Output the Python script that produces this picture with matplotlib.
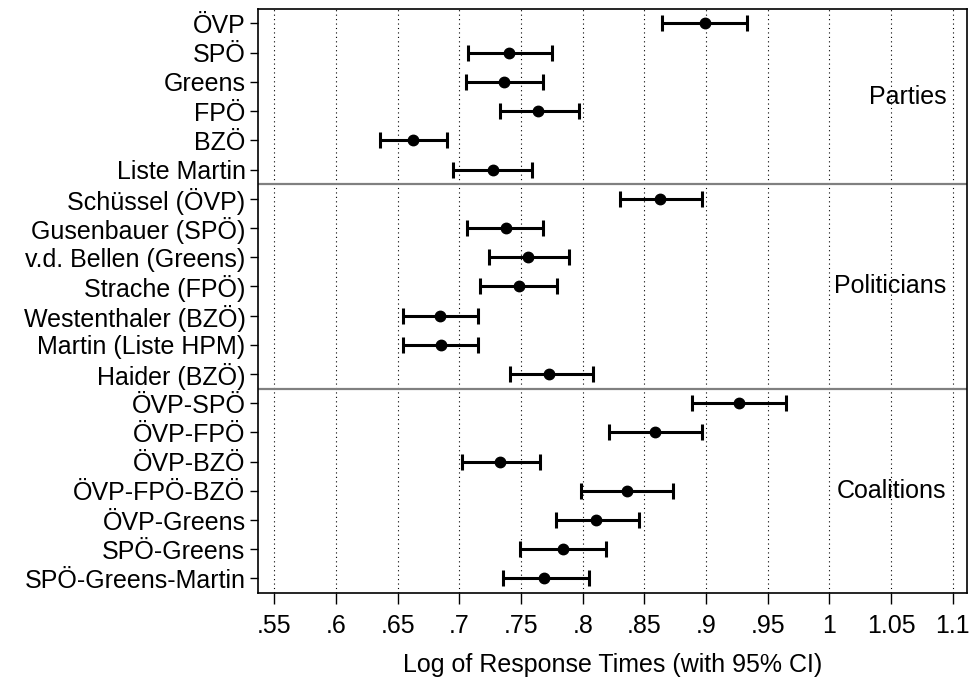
import matplotlib.pyplot as plt

plt.rcParams['font.family'] = ['Liberation Sans', 'DejaVu Sans']

# labels, top to bottom
labels = ["ÖVP", "SPÖ", "Greens", "FPÖ", "BZÖ", "Liste Martin",
          "Schüssel (ÖVP)", "Gusenbauer (SPÖ)", "v.d. Bellen (Greens)",
          "Strache (FPÖ)", "Westenthaler (BZÖ)", "Martin (Liste HPM)", "Haider (BZÖ)",
          "ÖVP-SPÖ", "ÖVP-FPÖ", "ÖVP-BZÖ", "ÖVP-FPÖ-BZÖ", "ÖVP-Greens",
          "SPÖ-Greens", "SPÖ-Greens-Martin"]

estimate = [0.899, 0.740, 0.736, 0.764, 0.662, 0.727,
            0.863, 0.738, 0.756, 0.748, 0.684, 0.685, 0.773,
            0.927, 0.859, 0.733, 0.836, 0.811, 0.784, 0.769]
ci_low = [0.864, 0.707, 0.705, 0.733, 0.636, 0.695,
          0.830, 0.706, 0.724, 0.717, 0.654, 0.654, 0.741,
          0.889, 0.821, 0.702, 0.799, 0.778, 0.749, 0.735]
ci_high = [0.933, 0.775, 0.768, 0.797, 0.690, 0.759,
           0.897, 0.768, 0.789, 0.779, 0.715, 0.715, 0.808,
           0.965, 0.897, 0.765, 0.873, 0.846, 0.819, 0.805]

groups = ["Parties", "Politicians", "Coalitions"]
group_sizes = [6, 7, 7]

xticks = [0.55, 0.6, 0.65, 0.7, 0.75, 0.8, 0.85, 0.9, 0.95, 1.0, 1.05, 1.1]
xtick_labels = [".55", ".6", ".65", ".7", ".75", ".8", ".85", ".9", ".95", "1", "1.05", "1.1"]

fs = 18

fig = plt.figure(figsize=(9.7, 6.84), dpi=100)
ax = fig.add_axes([0.266, 0.133, 0.731, 0.854])

ypos = list(range(len(labels)))
err_lo = [e - l for e, l in zip(estimate, ci_low)]
err_hi = [h - e for e, h in zip(estimate, ci_high)]
ax.errorbar(estimate, ypos, xerr=[err_lo, err_hi], fmt='o', color='black',
            ecolor='black', elinewidth=2.2, capsize=5.5, capthick=2.2, markersize=7.5,
            zorder=3)

for x in xticks:
    ax.axvline(x, color='black', linestyle=(0, (1, 3)), linewidth=0.8, zorder=1)

# group separators and labels
start = 0
for name, n in zip(groups, group_sizes):
    end = start + n
    if end < len(labels):
        ax.axhline(end - 0.5, color='#808080', linewidth=1.6, zorder=2)
    ax.text(1.095, start + (n - 1) / 2, name, ha='right', va='center', fontsize=fs)
    start = end

ax.set_xlim(0.5367, 1.1117)
ax.set_ylim(len(labels) - 0.5, -0.5)
ax.set_yticks(ypos)
ax.set_yticklabels(labels, fontsize=fs)
ax.set_xticks(xticks)
ax.set_xticklabels(xtick_labels, fontsize=fs)
ax.tick_params(axis='y', length=6, width=1, pad=3)
ax.tick_params(axis='x', length=8, width=1, pad=7)
ax.set_xlabel("Log of Response Times (with 95% CI)", fontsize=fs, labelpad=11)

for s in ax.spines.values():
    s.set_linewidth(1.2)

fig.savefig("out.png", dpi=100)
